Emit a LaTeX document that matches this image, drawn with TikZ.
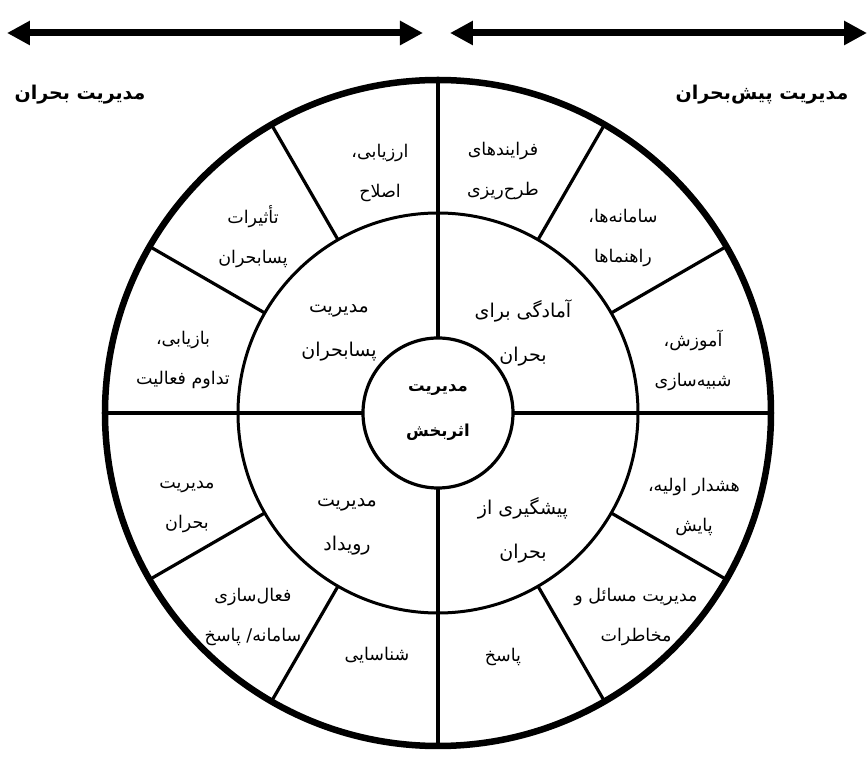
\documentclass[tikz,border=0pt]{standalone}
\usepackage{fontspec}
\usetikzlibrary{arrows.meta}
\newfontfamily\farsi[Script=Arabic]{DejaVu Sans}
\TeXXeTstate=1
\newcommand{\fa}[1]{{\farsi\beginR #1\endR}}

\begin{document}
\begin{tikzpicture}[x=1pt,y=1pt]
	\useasboundingbox (-438,-344) rectangle (430,413);
	
	\tikzstyle{rim}=[draw,line width=6.5pt]
	\tikzstyle{wheel}=[draw,line width=3pt]
	\tikzstyle{spoke}=[line width=3.2pt]
	\tikzstyle{cell}=[align=center,font=\fontsize{17.5}{40}\selectfont]
	\tikzstyle{phase}=[align=center,font=\fontsize{19}{44}\selectfont]
	\tikzstyle{head}=[font=\fontsize{19}{22}\selectfont\bfseries]
	\tikzstyle{span}=[line width=7pt,{Triangle[length=23pt,width=23pt]}-{Triangle[length=23pt,width=23pt]}]
	
	\coordinate(c) at (0,0);
	
	% phases on top
	\coordinate(crisisL) at (-431,380);
	\coordinate(crisisR) at (-15,380);
	\coordinate(preL) at (12,380);
	\coordinate(preR) at (429,380);
	\draw[span] (crisisL) -- (crisisR);
	\draw[span] (preL) -- (preR);
	\node[head](crisisHead) at (-358,318){\fa{مدیریت بحران}};
	\node[head](preHead) at (324,318){\fa{مدیریت پیش‌بحران}};
	
	% rings and spokes
	\draw[rim] (c) circle (333);
	\draw[wheel] (c) circle (200);
	\foreach \a in {0,90,180,270}
		\draw[spoke] (\a:75) -- (\a:333);
	\foreach \a in {30,60,120,150,210,240,300,330}
		\draw[spoke] (\a:200) -- (\a:333);
	
	\node[circle,draw,line width=3.2pt,minimum size=150pt,fill=white,align=center,font=\fontsize{16.5}{45}\selectfont\bfseries](core) at (c){\fa{مدیریت}\\\fa{اثربخش}};
	
	% inner ring
	\node[phase](prepare) at (85,80){\fa{آمادگی برای}\\\fa{بحران}};
	\node[phase](postMgmt) at (-99,80){\fa{مدیریت}\\\fa{پسابحران}};
	\node[phase](incident) at (-91,-114){\fa{مدیریت}\\\fa{رویداد}};
	\node[phase](prevent) at (85,-117){\fa{پیشگیری از}\\\fa{بحران}};
	
	% outer ring
	\node[cell](planning) at (65,242){\fa{فرایندهای}\\\fa{طرح‌ریزی}};
	\node[cell](systems) at (185,175){\fa{سامانه‌ها،}\\\fa{راهنماها}};
	\node[cell](training) at (255,53){\fa{آموزش،}\\\fa{شبیه‌سازی}};
	\node[cell](warning) at (256,-94){\fa{هشدار اولیه،}\\\fa{پایش}};
	\node[cell](risks) at (198,-204){\fa{مدیریت مسائل و}\\\fa{مخاطرات}};
	\node[cell](response) at (65,-244){\fa{پاسخ}};
	\node[cell](detect) at (-61,-242){\fa{شناسایی}};
	\node[cell](activate) at (-185,-204){\fa{فعال‌سازی}\\\fa{سامانه/ پاسخ}};
	\node[cell](crisisMgmt) at (-251,-94){\fa{مدیریت}\\\fa{بحران}};
	\node[cell](recovery) at (-255,53){\fa{بازیابی،}\\\fa{تداوم فعالیت}};
	\node[cell](impacts) at (-185,176){\fa{تأثیرات}\\\fa{پسابحران}};
	\node[cell](review) at (-58,240){\fa{ارزیابی،}\\\fa{اصلاح}};
	
\end{tikzpicture}
\end{document}
